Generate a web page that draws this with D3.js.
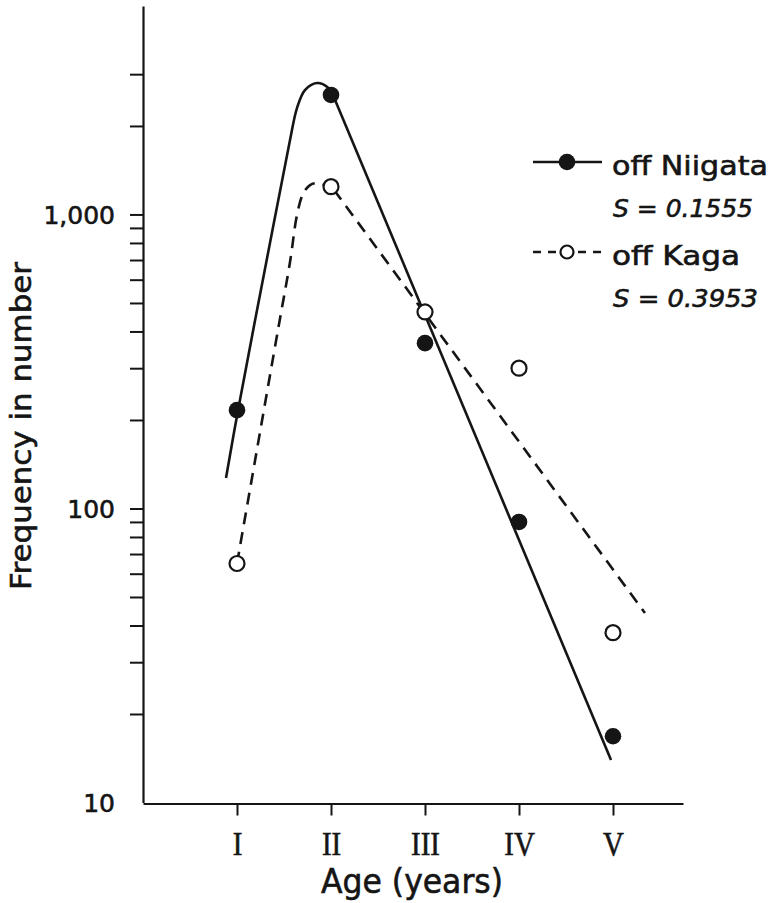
<!DOCTYPE html>
<html>
<head>
<meta charset="utf-8">
<script src="https://cdn.jsdelivr.net/npm/d3@7"></script>
<style>
body { margin: 0; background: #fff; }
svg { display: block; }
text { font-family: "DejaVu Sans", sans-serif; fill: #151515; stroke: #151515; stroke-width: 0.6px; }
text.roman { font-family: "Liberation Serif", serif; stroke-width: 0.6px; }
</style>
</head>
<body>
<svg width="770" height="903"></svg>
<script>
// ---- data
var ages = [1, 2, 3, 4, 5];
var ageLabels = ["I", "II", "III", "IV", "V"];
var niigata = [216, 2550, 365, 90, 16.8];
var kaga = [65, 1243, 466, 300, 37.8];

// fitted catch curves, [age, number]
var niigataRise = [[0.883, 127], [1.011, 216], [1.316, 700], [1.564, 1790], [1.638, 2300], [1.723, 2650], [1.851, 2800], [1.957, 2720], [2.021, 2550]];
var niigataFall = [[2.021, 2550], [4.979, 13.95]];
var kagaRise = [[1.0, 65], [1.436, 405], [1.564, 689], [1.638, 995], [1.702, 1175], [1.777, 1259], [1.862, 1279], [1.936, 1259], [2.007, 1243]];
var kagaFall = [[2.007, 1243], [5.34, 44.1]];

var yTicks = [10, 20, 30, 40, 50, 60, 70, 80, 90, 100, 200, 300, 400, 500, 600, 700, 800, 900, 1000, 2000, 3000];
var yTickLabels = {10: "10", 100: "100", 1000: "1,000"};

var seriesNames = ["off Niigata", "off Kaga"];
var seriesS = ["S = 0.1555", "S = 0.3953"];

var svg = d3.select("svg");
var ink = "#151515";

//------- scales
var x = d3.scaleLinear().domain([0, 540 / 94]).range([143, 683]);
var y = d3.scaleLog().domain([10, Math.pow(10, 3.709)]).range([802.5, 6]);

//------- axes
var yAxis = svg.append("g")
	.attr("transform", "translate(143,0)")
	.call(d3.axisLeft(y)
		.tickValues(yTicks)
		.tickSize(13)
		.tickSizeOuter(0)
		.tickPadding(15)
		.tickFormat(function(d) { return yTickLabels[d] || ""; }));
yAxis.select(".domain").attr("stroke", ink).attr("stroke-width", 2.2);
yAxis.selectAll(".tick line").attr("stroke", ink).attr("stroke-width", 2);
yAxis.selectAll(".tick").filter(function(d) { return d == 10; }).select("line").remove();
yAxis.selectAll(".tick text")
	.attr("font-size", 25)
	.attr("dy", "0.36em");

var xAxis = svg.append("g")
	.attr("transform", "translate(0,803.5)")
	.call(d3.axisBottom(x)
		.tickValues(ages)
		.tickSize(12)
		.tickSizeOuter(0)
		.tickPadding(15)
		.tickFormat(function(d, i) { return ageLabels[i]; }));
xAxis.select(".domain").attr("stroke", ink).attr("stroke-width", 2.2);
xAxis.selectAll(".tick line").attr("stroke", ink).attr("stroke-width", 2);
xAxis.selectAll(".tick text")
	.attr("class", "roman")
	.attr("font-size", 34)
	.attr("transform", "scale(0.85,1)");

// axis titles
svg.append("text")
	.attr("x", 412)
	.attr("y", 893)
	.attr("text-anchor", "middle")
	.attr("font-size", 34)
	.attr("textLength", 182)
	.attr("lengthAdjust", "spacingAndGlyphs")
	.text("Age (years)");

svg.append("text")
	.attr("transform", "translate(31,426) rotate(-90)")
	.attr("text-anchor", "middle")
	.attr("font-size", 28)
	.attr("textLength", 328)
	.attr("lengthAdjust", "spacingAndGlyphs")
	.text("Frequency in number");

//------- fitted curves
var curved = d3.line()
	.x(function(d) { return x(d[0]); })
	.y(function(d) { return y(d[1]); })
	.curve(d3.curveCatmullRom.alpha(0.5));
var straight = d3.line()
	.x(function(d) { return x(d[0]); })
	.y(function(d) { return y(d[1]); });

var curves = svg.append("g").attr("fill", "none").attr("stroke", ink).attr("stroke-width", 2.6);
curves.append("path").attr("d", curved(niigataRise));
curves.append("path").attr("d", straight(niigataFall));
curves.append("path").attr("d", curved(kagaRise)).attr("stroke-dasharray", "12,8");
curves.append("path").attr("d", straight(kagaFall)).attr("stroke-dasharray", "12,8").attr("stroke-dashoffset", -4);

//------- observed points
svg.append("g").selectAll("circle")
	.data(kaga)
	.enter().append("circle")
	.attr("cx", function(d, i) { return x(ages[i]); })
	.attr("cy", function(d) { return y(d); })
	.attr("r", 7.5)
	.attr("fill", "#fff")
	.attr("stroke", ink)
	.attr("stroke-width", 2.2);

svg.append("g").selectAll("circle")
	.data(niigata)
	.enter().append("circle")
	.attr("cx", function(d, i) { return x(ages[i]); })
	.attr("cy", function(d) { return y(d); })
	.attr("r", 8.3)
	.attr("fill", ink);

//------- legend
var legendY = [162, 252];
var legend = svg.append("g");
seriesNames.forEach(function(name, i) {
	var ly = legendY[i];
	legend.append("line")
		.attr("x1", 533).attr("x2", 602)
		.attr("y1", ly).attr("y2", ly)
		.attr("stroke", ink)
		.attr("stroke-width", 2.6)
		.attr("stroke-dasharray", i == 0 ? null : "8,7");
	legend.append("circle")
		.attr("cx", 567).attr("cy", ly)
		.attr("r", i == 0 ? 8.3 : 6.5)
		.attr("fill", i == 0 ? ink : "#fff")
		.attr("stroke", ink)
		.attr("stroke-width", i == 0 ? 0 : 2.2);
	legend.append("text")
		.attr("x", 612).attr("y", ly + 13)
		.attr("font-size", 27)
		.attr("textLength", i == 0 ? 156 : 128)
		.attr("lengthAdjust", "spacingAndGlyphs")
		.text(name);
	legend.append("text")
		.attr("x", 613).attr("y", ly + 55)
		.attr("font-size", 25)
		.attr("font-style", "italic")
		.attr("textLength", i == 0 ? 140 : 145)
		.attr("lengthAdjust", "spacingAndGlyphs")
		.text(seriesS[i]);
});
</script>
</body>
</html>
